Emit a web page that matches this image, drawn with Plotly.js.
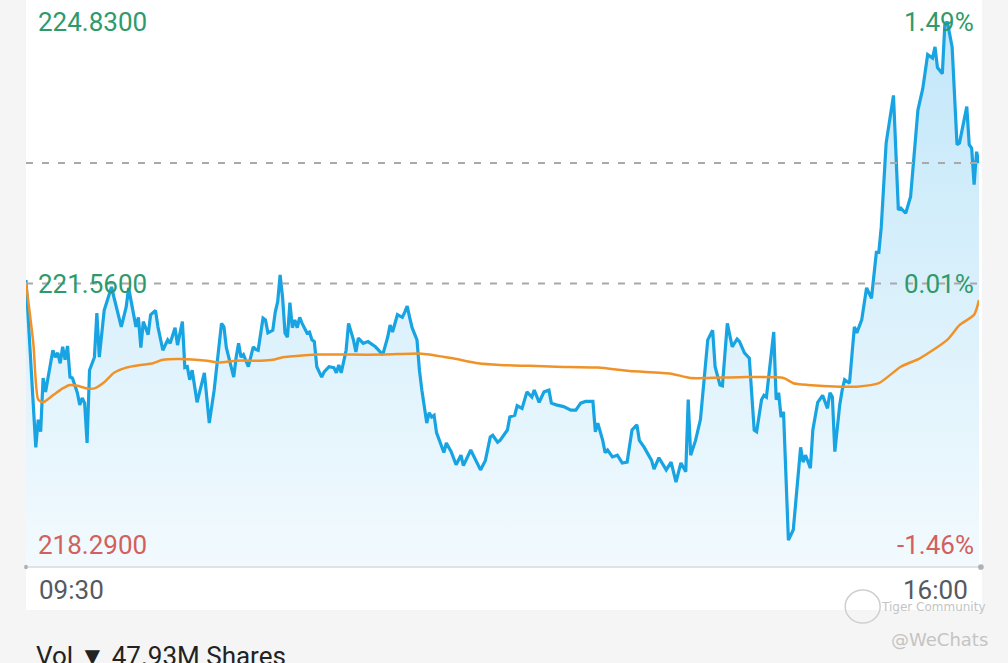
<!DOCTYPE html>
<html>
<head>
<meta charset="utf-8">
<script src="https://cdn.plot.ly/plotly-3.0.1.min.js"></script>
<style>
html,body{margin:0;padding:0;background:#f5f5f5;}
#chart{width:1008px;height:663px;}
</style>
</head>
<body>
<div id="chart"></div>
<script>
// minutes after 09:30 open
const minutes = [
  0,4,5,6,7,8,11,12,13,14,
  15,16,17,18,19,21,22,23,24,25,
  26,28,29,30,32,33,35,36,39,41,
  42,45,46,47,48,50,51,53,54,56,
  58,59,61,62,64,65,66,67,68,70,
  72,73,75,77,80,81,82,83,85,86,
  87,88,89,91,93,94,95,97,98,99,
  101,102,103,104,105,106,107,108,109,110,
  111,112,113,115,116,117,118,119,121,122,
  124,126,127,128,129,131,132,134,135,136,
  138,140,143,146,148,149,150,152,154,155,
  156,157,158,160,161,162,164,165,166,167,
  168,171,172,174,176,178,179,182,184,186,
  188,190,191,193,194,197,198,200,201,203,
  205,207,208,210,212,214,215,217,220,223,
  225,227,229,232,233,234,236,237,238,240,
  242,244,246,248,250,251,253,256,257,259,
  262,264,266,267,268,270,271,272,274,276,
  278,279,281,282,284,285,287,289,291,292,
  294,296,298,299,301,302,303,304,306,307,
  308,309,310,312,314,317,318,319,321,322,
  324,326,328,329,330,331,333,334,335,337,
  339,340,342,344,346,348,349,350,352,355,
  357,358,360,362,365,367,369,371,372,373,
  375,376,377,379,381,382,385,386,387,388,
  389,390
];
const prices = [
  221.60,219.67,219.99,219.85,220.47,220.31,220.79,220.71,220.76,220.64,
  220.83,220.68,220.84,220.48,220.47,220.30,220.16,220.24,220.18,219.72,
  220.56,220.71,221.22,220.71,221.25,221.35,221.52,221.40,221.06,221.29,
  221.51,221.06,221.17,220.82,221.12,220.97,221.20,221.25,221.06,220.79,
  220.91,220.87,221.05,220.85,221.12,220.59,220.60,220.45,220.56,220.19,
  220.41,220.53,219.95,220.33,221.10,221.06,220.82,220.71,220.48,220.71,
  220.87,220.71,220.74,220.60,220.83,220.80,220.79,221.16,221.14,220.99,
  221.02,221.23,221.35,221.66,221.40,220.99,220.94,221.34,221.05,221.14,
  221.05,221.17,221.10,220.99,221.00,220.91,220.89,220.60,220.48,220.54,
  220.60,220.59,220.53,220.62,220.53,220.79,221.10,220.91,220.77,220.93,
  220.87,220.89,220.83,220.74,220.94,221.08,221.00,221.20,221.17,221.23,
  221.30,221.17,221.05,220.91,220.56,220.33,219.95,220.07,220.02,220.04,
  219.84,219.61,219.72,219.62,219.47,219.58,219.46,219.64,219.52,219.41,
  219.52,219.79,219.81,219.73,219.75,219.87,220.02,220.04,220.15,220.12,
  220.31,220.25,220.33,220.19,220.31,220.33,220.18,220.16,220.14,220.10,
  220.10,220.18,220.20,220.20,219.85,219.95,219.75,219.61,219.64,219.56,
  219.58,219.49,219.50,219.87,219.93,219.75,219.67,219.52,219.42,219.55,
  219.41,219.50,219.27,219.39,219.49,219.39,220.22,219.58,219.75,219.99,
  220.60,220.91,221.02,220.60,220.39,220.38,221.10,220.83,220.92,220.89,
  220.76,220.70,219.87,219.85,220.22,220.27,220.25,220.53,221.00,220.22,
  220.30,220.02,220.08,218.60,218.72,219.67,219.50,219.58,219.43,219.87,
  220.19,220.27,220.12,220.30,220.25,219.62,220.16,220.33,220.45,220.41,
  221.06,220.99,221.14,221.51,221.39,221.92,221.92,222.21,223.18,223.73,
  222.41,222.43,222.37,222.56,223.56,223.81,224.20,224.16,224.29,224.05,
  223.98,224.54,224.58,224.29,223.16,223.18,223.60,223.16,223.12,222.70,
  223.08,222.95
];
// average price line
const avgMinutes = [0,3,5,7,11,15,18,21,25,28,32,36,41,47,52,56,63,74,79,86,96,101,105,109,119,133,146,157,162,174,185,194,206,217,234,247,264,272,292,310,314,320,333,340,349,358,366,377,382,388,390];
const avgPrices = [221.57,220.87,220.22,220.19,220.27,220.35,220.39,220.38,220.35,220.35,220.42,220.53,220.59,220.62,220.64,220.68,220.69,220.67,220.65,220.67,220.67,220.68,220.71,220.72,220.74,220.74,220.74,220.75,220.75,220.70,220.64,220.62,220.61,220.60,220.59,220.55,220.52,220.47,220.48,220.47,220.41,220.39,220.37,220.37,220.41,220.60,220.70,220.91,221.08,221.20,221.37];

const priceLabels = ["224.8300","221.5600","218.2900"];
const priceLevels = [224.83, 221.56, 218.29];
const pctLabels = ["1.49%","0.01%","-1.46%"];
const labelColors = ["#2e9a6c","#2e9a6c","#d2605d"];
const timeLabels = ["09:30","16:00"];
const timeValues = [0, 390];
const volumeText = "Vol \u25BC 47.93M Shares";

const yMin = priceLevels[2], yMax = priceLevels[0], yMid = priceLevels[1];
const lastPrice = prices[prices.length - 1];
const FONT = "Roboto, 'Noto Sans', sans-serif";

const traces = [
  {
    x: minutes, y: prices, type: 'scatter', mode: 'lines',
    line: {color: 'rgb(24,164,226)', width: 3.2},
    fill: 'tozeroy',
    fillgradient: {type: 'vertical', start: yMin, stop: yMax,
      colorscale: [[0, 'rgb(242,250,254)'], [1, 'rgb(192,230,249)']]},
    hoverinfo: 'skip'
  },
  {
    x: avgMinutes, y: avgPrices, type: 'scatter', mode: 'lines',
    line: {color: 'rgb(240,146,40)', width: 2.5, shape: 'spline', smoothing: 0.6},
    hoverinfo: 'skip'
  }
];

const annotations = [];
const yShifts = [-22, 0, 22];
for (let i = 0; i < priceLabels.length; i++) {
  annotations.push({x: timeValues[0], y: priceLevels[i], xref: 'x', yref: 'y',
    text: priceLabels[i], showarrow: false, xanchor: 'left', yanchor: 'middle',
    xshift: 10, yshift: yShifts[i], font: {family: FONT, size: 26, color: labelColors[i]}});
  annotations.push({x: timeValues[1], y: priceLevels[i], xref: 'x', yref: 'y',
    text: pctLabels[i], showarrow: false, xanchor: 'right', yanchor: 'middle',
    xshift: -3, yshift: yShifts[i], font: {family: FONT, size: 26, color: labelColors[i]}});
}
annotations.push({x: timeValues[0], y: 0, xref: 'x', yref: 'paper', text: timeLabels[0],
  showarrow: false, xanchor: 'left', yanchor: 'middle', xshift: 11, yshift: -23,
  font: {family: FONT, size: 26, color: '#555a61'}});
annotations.push({x: timeValues[1], y: 0, xref: 'x', yref: 'paper', text: timeLabels[1],
  showarrow: false, xanchor: 'right', yanchor: 'middle', xshift: -9, yshift: -23,
  font: {family: FONT, size: 26, color: '#555a61'}});
annotations.push({x: 0.008, y: -0.157, xref: 'paper', yref: 'paper', text: volumeText,
  showarrow: false, xanchor: 'left', yanchor: 'middle',
  font: {family: FONT, size: 26, color: '#222222'}});
// watermark
annotations.push({x: 1.009, y: -0.070, xref: 'paper', yref: 'paper', text: 'Tiger Community',
  showarrow: false, xanchor: 'right', yanchor: 'middle',
  font: {family: "'DejaVu Sans', sans-serif", size: 12, color: '#c4c4c4'}});
annotations.push({x: 1.012, y: -0.128, xref: 'paper', yref: 'paper', text: '@WeChats',
  showarrow: false, xanchor: 'right', yanchor: 'middle',
  font: {family: "'DejaVu Sans', sans-serif", size: 18, color: '#c4c4c4'}});

const shapes = [
  {type: 'rect', xref: 'paper', yref: 'paper', x0: 0, x1: 1.003, y0: -0.076, y1: 1,
   fillcolor: '#ffffff', line: {width: 0}, layer: 'below'},
  {type: 'line', xref: 'paper', yref: 'y', x0: 0, x1: 1, y0: yMid, y1: yMid,
   line: {color: '#a9a9a9', width: 2, dash: '7px,9px'}, layer: 'above'},
  {type: 'line', xref: 'paper', yref: 'y', x0: 0, x1: 1, y0: lastPrice, y1: lastPrice,
   line: {color: '#a9a9a9', width: 2, dash: '7px,9px'}, layer: 'above'},
  {type: 'line', xref: 'paper', yref: 'paper', x0: 0, x1: 1.002, y0: 0, y1: 0,
   line: {color: '#e0e3e6', width: 2}},
  {type: 'circle', xref: 'paper', yref: 'paper', x0: -0.002, x1: 0.002, y0: -0.004, y1: 0.004,
   fillcolor: '#b0b0b0', line: {width: 0}},
  {type: 'circle', xref: 'paper', yref: 'paper', x0: 0.999, x1: 1.005, y0: -0.005, y1: 0.005,
   fillcolor: '#b0b0b0', line: {width: 0}},
  {type: 'circle', xref: 'paper', yref: 'paper', x0: 0.8596, x1: 0.8963, y0: -0.0988, y1: -0.0406,
   line: {color: '#cfcfcf', width: 1.5}, fillcolor: 'rgba(0,0,0,0)'}
];

const layout = {
  width: 1008, height: 663,
  margin: {l: 26, r: 29, t: 0, b: 96, pad: 0},
  paper_bgcolor: '#f5f5f5',
  plot_bgcolor: '#ffffff',
  showlegend: false,
  xaxis: {range: [timeValues[0], timeValues[1]], showgrid: false, zeroline: false,
    showticklabels: false, ticks: '', showline: false, fixedrange: true},
  yaxis: {range: [yMin, yMax], showgrid: false, zeroline: false,
    showticklabels: false, ticks: '', showline: false, fixedrange: true},
  annotations: annotations,
  shapes: shapes,
  font: {family: FONT}
};

Plotly.newPlot('chart', traces, layout, {displayModeBar: false, staticPlot: true});
</script>
</body>
</html>
